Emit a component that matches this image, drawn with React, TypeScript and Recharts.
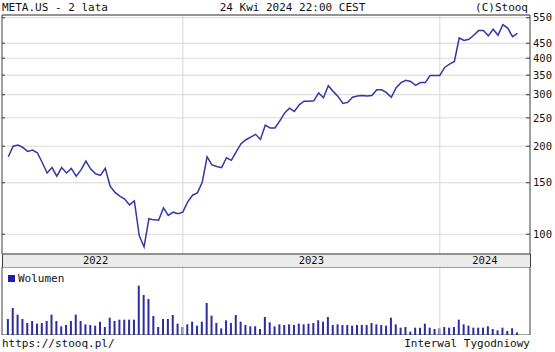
import React from 'react';
import { LineChart, Line, XAxis, YAxis, CartesianGrid, ReferenceLine, BarChart, Bar } from 'recharts';

// Weekly closes (USD), 2022-04-22 .. 2024-04-26
const closes = [
  184, 200, 202, 198, 192, 194, 190, 176, 162, 169,
  158, 169, 162, 168, 158, 166, 178, 167, 161, 159,
  168, 146, 139, 135, 132, 126, 130, 99, 90.5, 113,
  112, 111.6, 123, 116, 119, 117.6, 119, 129, 136, 138.5,
  150.6, 184, 172.7, 170.6, 169, 182.6, 179, 191.4, 204, 210.5,
  215, 219.6, 211, 236, 231, 231, 244, 260, 270, 263,
  277, 285, 285, 286, 304, 293, 322, 308, 296, 280,
  282.5, 294, 297, 298, 297, 298, 312, 312, 305, 294,
  317, 330, 336, 333, 323, 330, 330, 349, 349, 349,
  372, 382, 390, 469, 460, 464, 479, 497, 497, 477,
  502, 479, 521, 507, 474, 486,
];

// Weekly volume (millions of shares)
const volumes = [
  96, 162, 122, 96, 72, 84, 68, 72, 84, 122,
  84, 52, 60, 84, 122, 84, 64, 60, 56, 80,
  48, 104, 84, 92, 92, 92, 92, 296, 240, 216,
  114, 48, 96, 96, 120, 68, 48, 64, 80, 56,
  80, 192, 116, 72, 40, 88, 72, 120, 80, 60,
  52, 52, 36, 108, 76, 52, 64, 60, 64, 60,
  68, 64, 68, 72, 88, 80, 108, 60, 64, 60,
  60, 56, 60, 60, 60, 72, 64, 60, 56, 104,
  64, 44, 48, 20, 44, 44, 68, 44, 36, 40,
  48, 44, 48, 92, 64, 56, 44, 44, 44, 52,
  36, 28, 44, 24, 40, 16,
];

const priceTicks = [100, 150, 200, 250, 300, 350, 400, 450, 550];
const yearLabels = ['2022', '2023', '2024'];
const yearStarts = [0, 36, 89]; // week index where each year segment starts

const titleLeft = 'META.US - 2 lata';
const titleCenter = '24 Kwi 2024 22:00 CEST';
const titleRight = '(C)Stooq';
const footLeft = 'https://stooq.pl/';
const footRight = 'Interwal Tygodniowy';
const legendLabel = 'Wolumen';

const X_MIN = -1.3;
const X_MAX = 107.6;
const Y_MIN = 85.6;
const Y_MAX = 562;
const VOL_MAX = 408;

const FONT = "'DejaVu Sans Mono', monospace";
const FRAME = '#3c3c3c';
const GRID = '#d7d7d7';
const LINE = '#3636a6';
const BAR = '#2c2ca2';
const PLOT_LEFT = 2;

const data = closes.map((c, i) => ({ i, close: c, vol: volumes[i] }));

const yearCenters = yearStarts.map((a, k) => {
  const b = k + 1 < yearStarts.length ? yearStarts[k + 1] : X_MAX;
  return (a + b) / 2;
});

const PriceTick = (props: any) => {
  const { x, y, payload } = props;
  return (
    <g>
      <line x1={x - 7} x2={x - 3} y1={y} y2={y} stroke={FRAME} />
      <line x1={PLOT_LEFT} x2={PLOT_LEFT + 3} y1={y} y2={y} stroke={FRAME} />
      <text x={x} y={y} dy="0.35em" fontSize={10.5} fontFamily={FONT} fill="#111">
        {payload.value}
      </text>
    </g>
  );
};

const textStyle: React.CSSProperties = {
  position: 'absolute',
  fontSize: 11,
  lineHeight: '11px',
  whiteSpace: 'pre',
  fontFamily: FONT,
  color: '#111',
};

export default function App() {
  return (
    <div style={{ position: 'absolute', left: 0, top: 0, width: 555, height: 352, background: '#fff', overflow: 'hidden' }}>
      <div style={{ ...textStyle, left: 2, top: 2 }}>{titleLeft}</div>
      <div style={{ ...textStyle, left: 0, width: 585, top: 2, textAlign: 'center' }}>{titleCenter}</div>
      <div style={{ ...textStyle, right: 27, top: 2, textAlign: 'right' }}>{titleRight}</div>

      <div
        style={{
          position: 'absolute',
          left: 1.5,
          top: 254,
          width: 529,
          height: 13,
          background: '#ebebeb',
          borderLeft: `1px solid ${FRAME}`,
          borderRight: `1px solid ${FRAME}`,
          boxSizing: 'border-box',
        }}
      />

      <div style={{ position: 'absolute', left: 0, top: 0 }}>
        <LineChart width={555} height={267} data={data} margin={{ top: 15, right: 0, bottom: 0, left: PLOT_LEFT }}>
          <CartesianGrid vertical={false} stroke={GRID} />
          <XAxis
            dataKey="i"
            type="number"
            domain={[X_MIN, X_MAX]}
            allowDataOverflow
            ticks={yearCenters}
            interval={0}
            height={13}
            tickLine={false}
            tickSize={0}
            tickMargin={3}
            axisLine={{ stroke: FRAME }}
            tick={{ fontSize: 10.5, fill: '#111', fontFamily: FONT }}
            tickFormatter={(v: number) => yearLabels[yearCenters.indexOf(v)] ?? ''}
          />
          <YAxis
            orientation="right"
            width={25}
            type="number"
            scale="log"
            domain={[Y_MIN, Y_MAX]}
            allowDataOverflow
            ticks={priceTicks}
            interval={0}
            tickLine={false}
            tickSize={0}
            tickMargin={3}
            axisLine={{ stroke: FRAME }}
            tick={PriceTick}
          />
          <ReferenceLine x={yearStarts[1]} stroke={GRID} />
          <ReferenceLine x={yearStarts[2]} stroke={GRID} />
          <ReferenceLine x={X_MIN} stroke={FRAME} />
          <ReferenceLine y={Y_MAX} stroke={FRAME} />
          <Line
            type="linear"
            dataKey="close"
            stroke={LINE}
            strokeWidth={1.5}
            dot={false}
            isAnimationActive={false}
          />
        </LineChart>
      </div>

      <div style={{ position: 'absolute', left: 0, top: 267 }}>
        <BarChart width={555} height={68} data={data} margin={{ top: 0, right: 25, bottom: 0, left: PLOT_LEFT }} barSize={2}>
          <XAxis dataKey="i" type="number" domain={[X_MIN, X_MAX]} allowDataOverflow hide />
          <YAxis type="number" domain={[0, VOL_MAX]} allowDataOverflow hide />
          <ReferenceLine x={yearStarts[1]} stroke={GRID} />
          <ReferenceLine x={yearStarts[2]} stroke={GRID} />
          <ReferenceLine x={X_MIN} stroke={FRAME} />
          <ReferenceLine x={X_MAX} stroke={FRAME} />
          <ReferenceLine y={0} stroke={FRAME} />
          <ReferenceLine y={VOL_MAX} stroke={FRAME} />
          <Bar dataKey="vol" fill={BAR} isAnimationActive={false} />
        </BarChart>
      </div>

      <div style={{ position: 'absolute', left: 8, top: 273, display: 'flex', alignItems: 'center' }}>
        <span style={{ display: 'inline-block', width: 7, height: 7, background: '#1e1ea8' }} />
        <span style={{ ...textStyle, position: 'static', marginLeft: 3 }}>{legendLabel}</span>
      </div>

      <div style={{ ...textStyle, left: 2, top: 338 }}>{footLeft}</div>
      <div style={{ ...textStyle, right: 25, top: 338, textAlign: 'right' }}>{footRight}</div>
    </div>
  );
}
